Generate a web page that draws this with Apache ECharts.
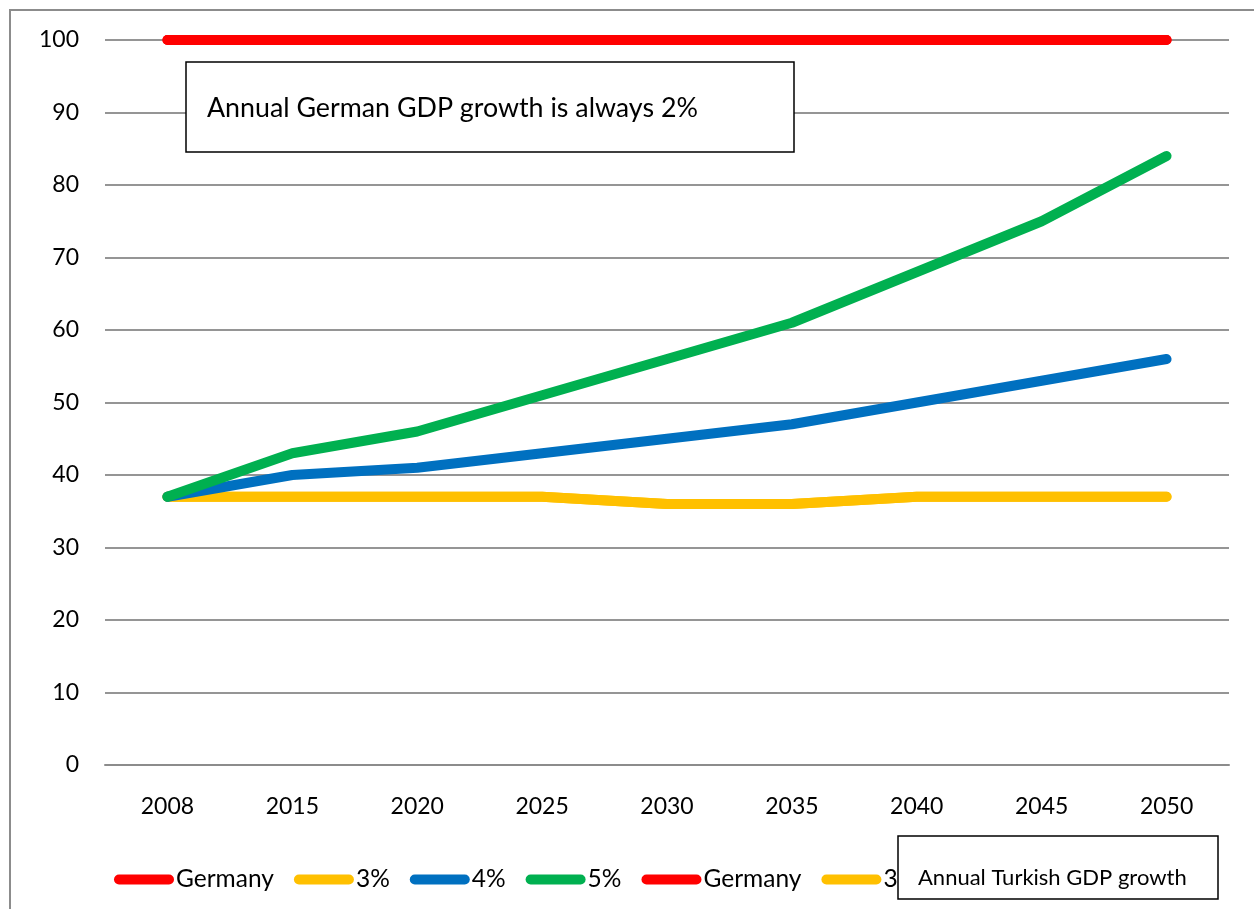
<!DOCTYPE html>
<html>
<head>
<meta charset="utf-8">
<script src="https://cdn.jsdelivr.net/npm/echarts@6/dist/echarts.min.js"></script>
<style>
html,body{margin:0;padding:0;background:#fff;}
#c{width:1254px;height:909px;}
</style>
</head>
<body>
<div id="c"></div>
<script>
const years = ['2008','2015','2020','2025','2030','2035','2040','2045','2050'];
const germany = [100,100,100,100,100,100,100,100,100];
const g3 = [37,37,37,37,36,36,37,37,37];
const g4 = [37,40,41,43,45,47,50,53,56];
const g5 = [37,43,46,51,56,61,68,75,84];
const yTicks = {min:0, max:100, interval:10};
const noteTop = 'Annual German GDP growth is always 2%';
const noteBottom = 'Annual Turkish GDP growth';

const FONT = 'Lato';
const capsule = 'path://M5,0 L55,0 A5,5 0 0 1 55,10 L5,10 A5,5 0 0 1 5,0 Z';

function line(name, data, color, z){
  return {
    name: name, type: 'line', data: data, z: z,
    symbol: 'none', showSymbol: false, smooth: false,
    lineStyle: {color: color, width: 10, cap: 'round', join: 'round'},
    itemStyle: {color: color},
    emphasis: {disabled: true}, animation: false
  };
}

const chart = echarts.init(document.getElementById('c'), null, {renderer:'canvas'});
chart.setOption({
  animation: false,
  backgroundColor: '#fff',
  grid: {left: 105, right: 25, top: 40, bottom: 144, containLabel: false},
  xAxis: {
    type: 'category', data: years, boundaryGap: true,
    axisLine: {show: true, lineStyle: {color: '#8c8c8c', width: 2}},
    axisTick: {show: false},
    axisLabel: {color: '#000', fontFamily: FONT, fontSize: 23, margin: 30}
  },
  yAxis: {
    type: 'value', min: yTicks.min, max: yTicks.max, interval: yTicks.interval,
    axisLine: {show: false}, axisTick: {show: false},
    splitLine: {lineStyle: {color: '#959595', width: 2}},
    axisLabel: {color: '#000', fontFamily: FONT, fontSize: 23, margin: 26}
  },
  legend: {
    left: 109, top: 862, icon: capsule, itemWidth: 60, itemHeight: 11, itemGap: 20,
    textStyle: {color: '#000', fontFamily: FONT, fontSize: 24.5, padding: [0,0,0,-3]},
    formatter: n => n.trim(),
    data: ['Germany','3%','4%','5%','Germany ','3% ']
  },
  series: [
    line('Germany ', germany, '#ff0000', 1),
    line('3% ', g3, '#ffc000', 1),
    line('Germany', germany, '#ff0000', 2),
    line('3%', g3, '#ffc000', 2),
    line('4%', g4, '#0070c0', 3),
    line('5%', g5, '#00b050', 4)
  ],
  graphic: [
    {type:'rect', silent:true, z:0, shape:{x:10, y:10, width:1300, height:1000}, style:{fill:null, stroke:'#8c8c8c', lineWidth:2}},
    {type:'rect', z:100, shape:{x:186, y:62, width:608, height:90}, style:{fill:'#fff', stroke:'#000', lineWidth:1.5}},
    {type:'text', z:101, x:207, y:108, style:{text: noteTop, fontFamily: FONT, fontSize: 26.8, fill:'#000', verticalAlign:'middle'}},
    {type:'rect', z:100, shape:{x:898, y:836, width:320, height:63}, style:{fill:'#fff', stroke:'#000', lineWidth:1.5}},
    {type:'text', z:101, x:918, y:878, style:{text: noteBottom, fontFamily: FONT, fontSize: 22, fill:'#000', verticalAlign:'middle'}}
  ]
});
</script>
</body>
</html>
